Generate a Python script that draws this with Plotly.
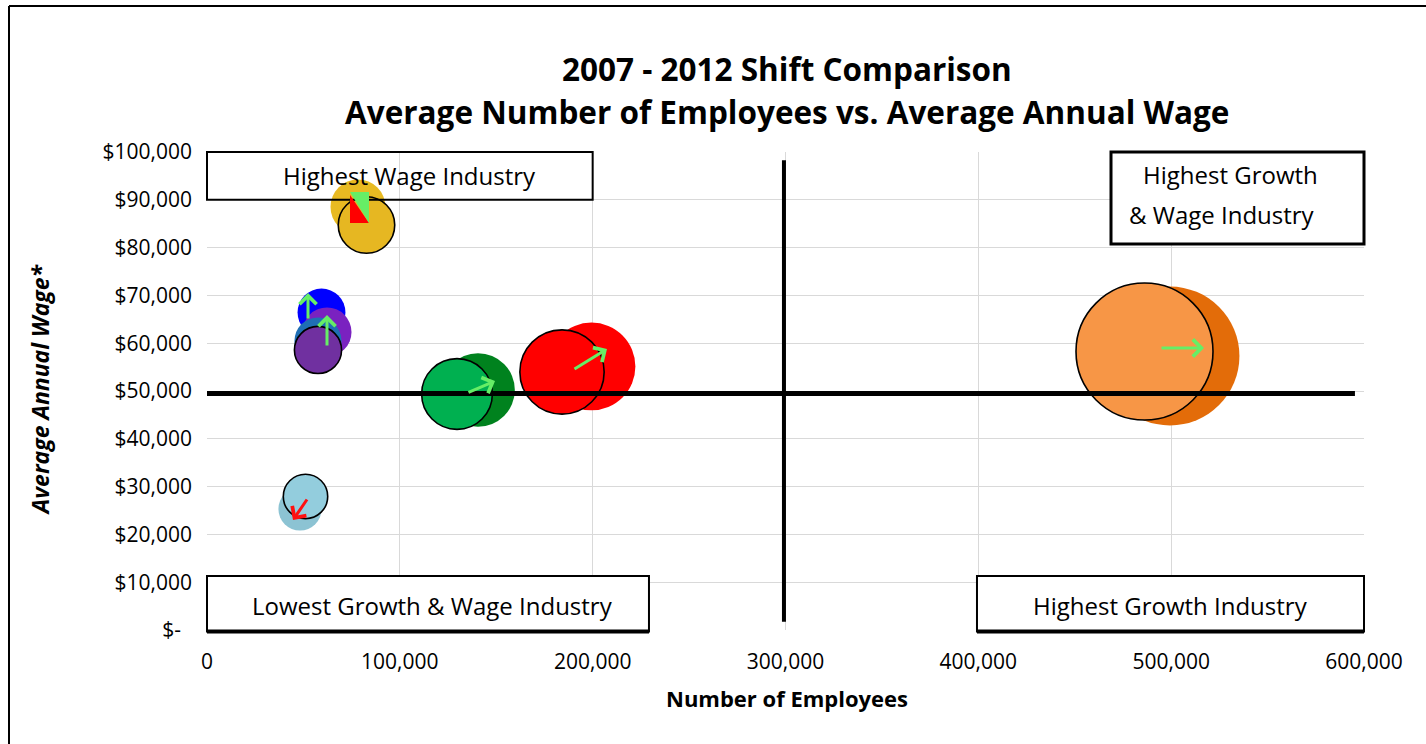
import plotly.graph_objects as go

# ---------------- data ----------------
industries = ["Orange", "Red", "Green", "Light Blue", "Yellow", "Blue", "Purple"]
emp_2007 = [486170, 184100, 129650, 51080, 82710, 57560, 57560]
wage_2007 = [58260, 53980, 49370, 27930, 84730, 60460, 58580]
emp_2012 = [499400, 199400, 140540, 48230, 78300, 59380, 62230]
wage_2012 = [57320, 55130, 50210, 25310, 88490, 66420, 62340]
color_2007 = ["#F79646", "#FF0000", "#00B050", "#93CDDD", "#E6B722", "#1F6FB4", "#7030A0"]
color_2012 = ["#E36C09", "#FF0000", "#00821E", "#8CC3D3", "#E8BA22", "#0000FF", "#7A22C0"]
outline_2007 = [1.6, 1.6, 1.6, 1.6, 1.6, 0, 1.6]

# change arrows (tail -> head)
arrow_x0 = [494210, 189800, 134830, 52380, 52380, 62230]
arrow_y0 = [59000, 54390, 49580, 27610, 64850, 59200]
arrow_x1 = [517030, 207430, 149350, 44600, 52380, 62230]
arrow_y1 = [59000, 58790, 52090, 23010, 70500, 65900]
arrow_col = ["#66EE66", "#66EE66", "#66EE66", "#FF1010", "#66EE66", "#66EE66"]

avg_wage = 49500
avg_emp = 299200

x_ticks = [0, 100000, 200000, 300000, 400000, 500000, 600000]
x_ticktext = ["0", "100,000", "200,000", "300,000", "400,000", "500,000", "600,000"]
y_ticks = [0, 10000, 20000, 30000, 40000, 50000, 60000, 70000, 80000, 90000, 100000]
y_ticktext = ["$-\u00a0\u00a0", "$10,000", "$20,000", "$30,000", "$40,000", "$50,000", "$60,000",
              "$70,000", "$80,000", "$90,000", "$100,000"]

# quadrant label boxes
box_x0 = [0, 468800, 0, 399300]
box_x1 = [200000, 600000, 229200, 600000]
box_y0 = [90000, 80750, -300, -300]
box_y1 = [100000, 100000, 11300, 11300]
label_text = ["Highest Wage Industry", "Highest Growth", "& Wage Industry",
              "Lowest Growth & Wage Industry", "Highest Growth Industry"]
label_x = [105000, 531000, 526400, 116700, 499400]
label_y = [95000, 95190, 87030, 5230, 5230]

X_MAX = 600000
Y_MAX = 100000
FONT = "Open Sans"
MAX_BUBBLE_PX = 137
sizeref = 2 * emp_2007[0] / (MAX_BUBBLE_PX ** 2)

fig = go.Figure()
fig.add_trace(go.Scatter(
    x=emp_2012, y=wage_2012, mode="markers", name="2012", text=industries,
    marker=dict(size=emp_2012, sizemode="area", sizeref=sizeref,
                color=color_2012, opacity=1, line=dict(width=0)),
))
fig.add_trace(go.Scatter(
    x=emp_2007, y=wage_2007, mode="markers", name="2007", text=industries,
    marker=dict(size=emp_2007, sizemode="area", sizeref=sizeref,
                color=color_2007, opacity=1,
                line=dict(width=outline_2007, color="black")),
))

shapes = []


def px(v):
    return v / X_MAX


def py(v):
    return v / Y_MAX


# average reference lines
shapes.append(dict(type="line", xref="x", yref="y", x0=0, x1=595300, y0=avg_wage, y1=avg_wage,
                   line=dict(color="black", width=5), layer="above"))
shapes.append(dict(type="line", xref="x", yref="y", x0=avg_emp, x1=avg_emp, y0=1700, y1=98300,
                   line=dict(color="black", width=4), layer="above"))

# quadrant boxes
for i in range(4):
    fill = "rgba(0,0,0,0)" if i == 0 else "white"
    lw = 3 if i == 1 else 2
    shapes.append(dict(type="rect", xref="paper", yref="paper",
                       x0=px(box_x0[i]), x1=px(box_x1[i]), y0=py(box_y0[i]), y1=py(box_y1[i]),
                       fillcolor=fill, line=dict(color="black", width=lw), layer="above"))
    if i >= 2:
        shapes.append(dict(type="line", xref="paper", yref="paper",
                           x0=px(box_x0[i]), x1=px(box_x1[i]), y0=py(box_y0[i]), y1=py(box_y0[i]),
                           line=dict(color="black", width=4), layer="above"))

# mixed-change marker for the yellow industry (anchored to its 2012 bubble)
yi = 4
shapes.append(dict(type="path", xref="x", yref="y", xsizemode="pixel", ysizemode="pixel",
                   xanchor=emp_2012[yi], yanchor=wage_2012[yi],
                   path="M-8,12 L-8,-16 L11,-16 Z", fillcolor="#FF0000", line=dict(width=0),
                   layer="above"))
shapes.append(dict(type="path", xref="x", yref="y", xsizemode="pixel", ysizemode="pixel",
                   xanchor=emp_2012[yi], yanchor=wage_2012[yi],
                   path="M-8,15 L11,15 L11,-16 Z", fillcolor="#66EE66", line=dict(width=0),
                   layer="above"))

# outer frame (left & top)
shapes.append(dict(type="line", xref="paper", yref="paper", x0=-198 / 1157, x1=-198 / 1157,
                   y0=-114 / 478, y1=624 / 478, line=dict(color="black", width=2)))
shapes.append(dict(type="line", xref="paper", yref="paper", x0=-198 / 1157, x1=1219 / 1157,
                   y0=624 / 478, y1=624 / 478, line=dict(color="black", width=2)))

annotations = []
for i in range(len(arrow_x0)):
    annotations.append(dict(x=arrow_x1[i], y=arrow_y1[i], ax=arrow_x0[i], ay=arrow_y0[i],
                            xref="x", yref="y", axref="x", ayref="y", text="",
                            showarrow=True, arrowhead=4, arrowsize=1.1, arrowwidth=3,
                            arrowcolor=arrow_col[i], standoff=0, startstandoff=0))

for i in range(len(label_text)):
    annotations.append(dict(x=label_x[i], y=label_y[i], xref="x", yref="y",
                            xanchor="center", yanchor="middle",
                            text=label_text[i], showarrow=False, align="center",
                            font=dict(family=FONT, size=24, color="black")))

annotations.append(dict(x=0.5013, y=1.1757, xref="paper", yref="paper", showarrow=False,
                        xanchor="center", yanchor="middle",
                        text="<b>2007 - 2012 Shift Comparison</b>",
                        font=dict(family=FONT, size=31.5, color="black")))
annotations.append(dict(x=0.5013, y=1.0837, xref="paper", yref="paper", showarrow=False,
                        xanchor="center", yanchor="middle",
                        text="<b>Average Number of Employees vs. Average Annual Wage</b>",
                        font=dict(family=FONT, size=31.5, color="black")))
annotations.append(dict(x=0.5013, y=-0.1423, xref="paper", yref="paper", showarrow=False,
                        xanchor="center", yanchor="middle",
                        text="<b>Number of Employees</b>",
                        font=dict(family=FONT, size=22, color="black")))
annotations.append(dict(x=-0.1443, y=0.504, xref="paper", yref="paper", showarrow=False,
                        xanchor="center", yanchor="middle",
                        text="<b><i>Average Annual Wage*</i></b>", textangle=-90,
                        font=dict(family=FONT, size=23, color="black")))

fig.update_layout(
    width=1426, height=744,
    margin=dict(l=207, r=62, t=152, b=114),
    paper_bgcolor="white", plot_bgcolor="white",
    showlegend=False,
    shapes=shapes, annotations=annotations,
    font=dict(family=FONT, color="black"),
    xaxis=dict(range=[0, X_MAX], tickvals=x_ticks, ticktext=x_ticktext, showgrid=True,
               gridcolor="#D9D9D9", gridwidth=1, zeroline=False, showline=False,
               ticks="", ticklabelstandoff=17, tickfont=dict(family=FONT, size=21)),
    yaxis=dict(range=[0, Y_MAX], tickvals=y_ticks, ticktext=y_ticktext, showgrid=True,
               gridcolor="#D9D9D9", gridwidth=1, zeroline=False, showline=False,
               ticks="", ticklabelstandoff=14, tickfont=dict(family=FONT, size=21)),
)

fig.write_html("out.html")
